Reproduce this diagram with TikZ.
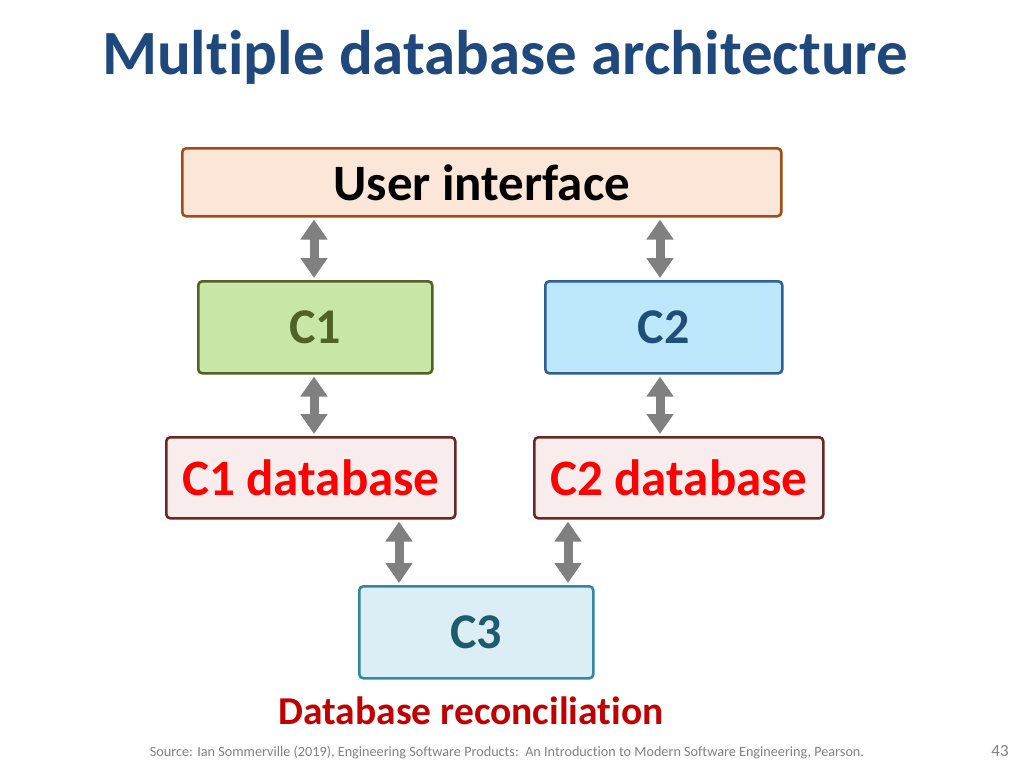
\documentclass[tikz,border=0pt]{standalone}
\usepackage{fontspec}
\setmainfont[Ligatures=CommonOff]{Carlito}
\usetikzlibrary{arrows.meta,calc}
\definecolor{titleblue}{HTML}{1F497D}
\definecolor{uifill}{HTML}{FCE6D8}
\definecolor{uiborder}{HTML}{A24B12}
\definecolor{c1fill}{HTML}{C8E6A6}
\definecolor{c1border}{HTML}{4F6228}
\definecolor{c2fill}{HTML}{BDE8FB}
\definecolor{c2border}{HTML}{2F5F95}
\definecolor{c2text}{HTML}{1F4E79}
\definecolor{dbfill}{HTML}{F9ECEC}
\definecolor{dbborder}{HTML}{6B2626}
\definecolor{c3fill}{HTML}{DBEDF5}
\definecolor{c3border}{HTML}{3288A0}
\definecolor{c3text}{HTML}{1E5C6C}
\definecolor{recon}{HTML}{C00000}
\definecolor{arrowgray}{HTML}{808080}
\tikzset{
  x=1pt,y=-1pt,
  box/.style={draw, line width=2.6pt, rounded corners=4pt, inner sep=0pt, anchor=north west},
  biarrow/.style={draw=arrowgray, line width=9pt, {Triangle[width=26pt,length=20pt]}-{Triangle[width=26pt,length=20pt]}, shorten <=2pt, shorten >=2pt},
}
\begin{document}
\begin{tikzpicture}
\useasboundingbox (0,0) rectangle (1024,768);
\node[font=\bfseries\fontsize{63}{70}\selectfont, text=titleblue] (title) at (505,57) {Multiple database architecture};

\node[box, draw=uiborder, fill=uifill, minimum width=599pt, minimum height=68pt, font=\bfseries\fontsize{51}{58}\selectfont] (ui) at (181,147) {User interface};
\node[box, draw=c1border, fill=c1fill, text=c1border, minimum width=234pt, minimum height=92pt, font=\bfseries\fontsize{50}{58}\selectfont] (c1) at (197,280) {C1};
\node[box, draw=c2border, fill=c2fill, text=c2text, minimum width=237pt, minimum height=92pt, font=\bfseries\fontsize{50}{58}\selectfont] (c2) at (544,280) {C2};
\node[box, draw=dbborder, fill=dbfill, text=red, minimum width=289pt, minimum height=81pt, font=\bfseries\fontsize{51}{58}\selectfont] (c1db) at (165,436) {C1 database};
\node[box, draw=dbborder, fill=dbfill, text=red, minimum width=289pt, minimum height=81pt, font=\bfseries\fontsize{51}{58}\selectfont] (c2db) at (533,436) {C2 database};
\node[box, draw=c3border, fill=c3fill, text=c3text, minimum width=234pt, minimum height=92pt, font=\bfseries\fontsize{50}{58}\selectfont] (c3) at (358,585) {C3};

\node[font=\bfseries\fontsize{39.5}{46}\selectfont, text=recon] (reclabel) at (471,711) {Database reconciliation};

\node[font=\fontsize{14.2}{17}\selectfont, text=gray] (source) at (507,753) {Source: Ian Sommerville (2019), Engineering Software Products:\ \ An Introduction to Modern Software Engineering, Pearson.};
\node[font=\fontsize{17}{20}\selectfont, text=gray] (pagenum) at (1000,751) {43};

\coordinate (xa) at (314,0);
\coordinate (xb) at (660,0);
\coordinate (xc) at (399,0);
\coordinate (xd) at (568,0);

\draw[biarrow] (ui.south -| xa) -- (c1.north -| xa);
\draw[biarrow] (ui.south -| xb) -- (c2.north -| xb);
\draw[biarrow] (c1.south -| xa) -- (c1db.north -| xa);
\draw[biarrow] (c2.south -| xb) -- (c2db.north -| xb);
\draw[biarrow] (c1db.south -| xc) -- (c3.north -| xc);
\draw[biarrow] (c2db.south -| xd) -- (c3.north -| xd);
\end{tikzpicture}
\end{document}
